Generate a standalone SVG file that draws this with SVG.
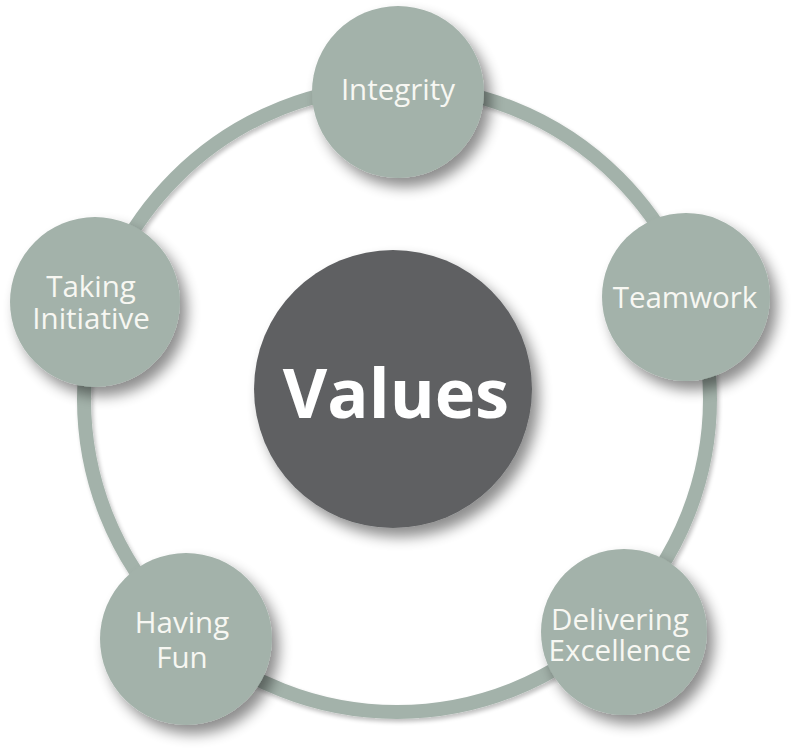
<svg xmlns="http://www.w3.org/2000/svg" width="800" height="755" viewBox="0 0 800 755">
<defs>
<filter id="sh" x="-30%" y="-30%" width="170%" height="170%">
<feGaussianBlur in="SourceAlpha" stdDeviation="7"/>
<feOffset dx="7" dy="9" result="b"/>
<feComponentTransfer><feFuncA type="linear" slope="0.45"/></feComponentTransfer>
<feMerge><feMergeNode/><feMergeNode in="SourceGraphic"/></feMerge>
</filter>
<filter id="sh2" x="-10%" y="-10%" width="120%" height="120%">
<feGaussianBlur in="SourceAlpha" stdDeviation="2"/>
<feOffset dx="2" dy="3" result="b"/>
<feComponentTransfer><feFuncA type="linear" slope="0.25"/></feComponentTransfer>
<feMerge><feMergeNode/><feMergeNode in="SourceGraphic"/></feMerge>
</filter>
</defs>
<style>
.n{fill:#a3b2aa;filter:url(#sh)}
.c{fill:#5f6062;filter:url(#sh)}
.t{font-family:"Open Sans","Liberation Sans",sans-serif;font-size:29.5px;fill:#f7f7f2;text-anchor:middle}
.v{font-family:"Open Sans","Liberation Sans",sans-serif;font-size:68.5px;font-weight:bold;fill:#ffffff;text-anchor:middle}
</style>
<rect width="800" height="755" fill="#ffffff"/>
<g id="connectors">
<circle cx="397" cy="399" r="313" fill="none" stroke="#a3b2aa" stroke-width="14" filter="url(#sh2)"/>
</g>
<g id="values">
<circle class="c" cx="393" cy="389" r="139"/>
<text class="v" x="396" y="418">Values</text>
</g>
<g id="integrity">
<circle class="n" cx="398" cy="92" r="86"/>
<text class="t" x="398" y="100">Integrity</text>
</g>
<g id="teamwork">
<circle class="n" cx="686" cy="297" r="84"/>
<text class="t" x="685" y="308">Teamwork</text>
</g>
<g id="delivering-excellence">
<circle class="n" cx="624" cy="632" r="83"/>
<text class="t" x="620" y="630">Delivering</text>
<text class="t" x="620" y="661">Excellence</text>
</g>
<g id="having-fun">
<circle class="n" cx="186" cy="639" r="86"/>
<text class="t" x="182" y="633">Having</text>
<text class="t" x="182" y="668">Fun</text>
</g>
<g id="taking-initiative">
<circle class="n" cx="95" cy="302" r="85"/>
<text class="t" x="91" y="297">Taking</text>
<text class="t" x="91" y="329">Initiative</text>
</g>
</svg>
